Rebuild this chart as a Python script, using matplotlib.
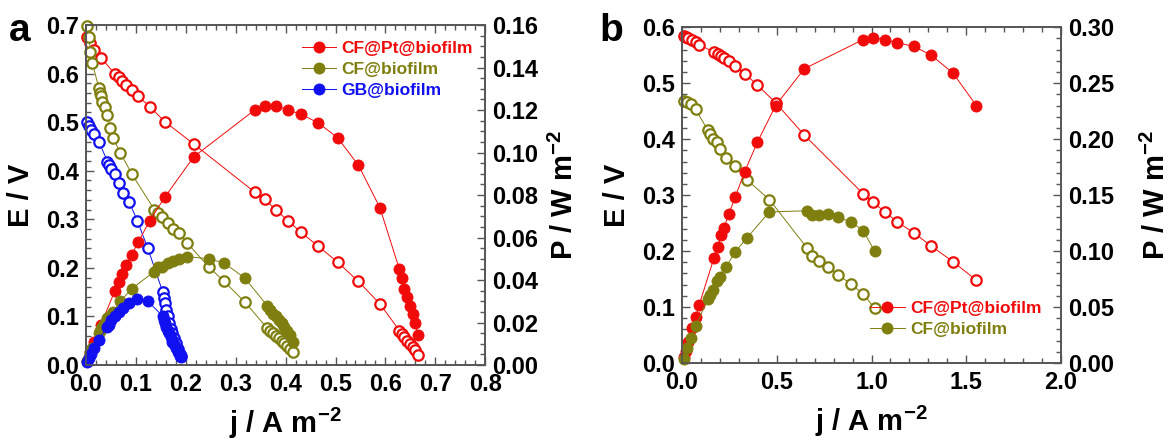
import matplotlib
matplotlib.use('Agg')
import matplotlib.pyplot as plt
from matplotlib.ticker import MultipleLocator, FormatStrFormatter

plt.rcParams['font.family'] = ['Liberation Sans', 'DejaVu Sans']
plt.rcParams['font.weight'] = 'bold'
plt.rcParams['axes.labelweight'] = 'bold'
plt.rcParams['mathtext.fontset'] = 'custom'
plt.rcParams['mathtext.rm'] = 'Liberation Sans:bold'
plt.rcParams['mathtext.bf'] = 'Liberation Sans:bold'
plt.rcParams['mathtext.default'] = 'bf'

# ---- panel a data ----
a_pt_j = [0.003, 0.009, 0.017, 0.030, 0.058, 0.066, 0.073, 0.081, 0.092, 0.105, 0.128, 0.158, 0.216,
          0.338, 0.358, 0.381, 0.405, 0.431, 0.465, 0.504, 0.546, 0.589, 0.628, 0.633, 0.638, 0.644,
          0.650, 0.655, 0.659, 0.665]
a_pt_E = [0.675, 0.662, 0.649, 0.633, 0.599, 0.592, 0.585, 0.577, 0.566, 0.553, 0.532, 0.501, 0.455,
          0.356, 0.341, 0.319, 0.297, 0.273, 0.245, 0.212, 0.172, 0.126, 0.071, 0.064, 0.057, 0.050,
          0.043, 0.037, 0.030, 0.021]
a_pt_P = [0.002, 0.006, 0.011, 0.019, 0.035, 0.039, 0.043, 0.047, 0.052, 0.058, 0.068, 0.079, 0.098,
          0.120, 0.122, 0.122, 0.120, 0.118, 0.114, 0.107, 0.094, 0.074, 0.045, 0.041, 0.036, 0.032,
          0.028, 0.024, 0.020, 0.014]

a_cf_j = [0.003, 0.006, 0.009, 0.013, 0.026, 0.028, 0.030, 0.033, 0.038, 0.043, 0.048, 0.054, 0.069,
          0.092, 0.137, 0.145, 0.152, 0.164, 0.175, 0.186, 0.203, 0.246, 0.277, 0.318, 0.363, 0.369,
          0.375, 0.381, 0.386, 0.392, 0.397, 0.402, 0.408, 0.414]
a_cf_E = [0.697, 0.676, 0.645, 0.621, 0.570, 0.561, 0.553, 0.542, 0.531, 0.515, 0.489, 0.468, 0.437,
          0.393, 0.320, 0.314, 0.305, 0.293, 0.281, 0.271, 0.251, 0.202, 0.172, 0.130, 0.076, 0.071,
          0.065, 0.060, 0.055, 0.050, 0.045, 0.039, 0.034, 0.027]
a_cf_P = [0.002, 0.004, 0.006, 0.008, 0.015, 0.016, 0.017, 0.018, 0.020, 0.022, 0.023, 0.025, 0.030,
          0.036, 0.044, 0.046, 0.046, 0.048, 0.049, 0.050, 0.051, 0.050, 0.048, 0.041, 0.028, 0.026,
          0.024, 0.023, 0.021, 0.020, 0.018, 0.016, 0.014, 0.011]

a_gb_j = [0.003, 0.007, 0.011, 0.017, 0.026, 0.043, 0.047, 0.051, 0.058, 0.066, 0.075, 0.087, 0.103,
          0.124, 0.154, 0.156, 0.158, 0.161, 0.164, 0.167, 0.171, 0.173, 0.176, 0.180, 0.184, 0.188,
          0.191]
a_gb_E = [0.501, 0.492, 0.484, 0.476, 0.460, 0.419, 0.412, 0.404, 0.394, 0.375, 0.355, 0.335, 0.297,
          0.240, 0.150, 0.137, 0.127, 0.113, 0.100, 0.087, 0.075, 0.065, 0.055, 0.045, 0.034, 0.023,
          0.019]
a_gb_P = [0.0015, 0.0034, 0.0053, 0.0081, 0.012, 0.018, 0.019, 0.021, 0.023, 0.025, 0.027, 0.029,
          0.031, 0.030, 0.023, 0.021, 0.020, 0.018, 0.016, 0.015, 0.013, 0.011, 0.0097, 0.0081, 0.0063,
          0.0043, 0.0036]

# ---- panel b data ----
b_pt_j = [0.008, 0.019, 0.033, 0.053, 0.072, 0.091, 0.169, 0.189, 0.208, 0.222, 0.247, 0.280, 0.331,
          0.397, 0.494, 0.646, 0.957, 1.006, 1.070, 1.136, 1.222, 1.315, 1.430, 1.553]
b_pt_E = [0.584, 0.583, 0.580, 0.577, 0.574, 0.569, 0.555, 0.552, 0.549, 0.545, 0.539, 0.530, 0.517,
          0.497, 0.465, 0.407, 0.302, 0.288, 0.270, 0.252, 0.233, 0.209, 0.181, 0.148]
b_pt_P = [0.005, 0.011, 0.019, 0.031, 0.041, 0.052, 0.094, 0.104, 0.114, 0.121, 0.133, 0.148, 0.171,
          0.197, 0.230, 0.263, 0.289, 0.290, 0.289, 0.286, 0.283, 0.275, 0.259, 0.230]

b_cf_j = [0.008, 0.027, 0.047, 0.072, 0.136, 0.150, 0.163, 0.185, 0.202, 0.233, 0.280, 0.344, 0.461,
          0.661, 0.685, 0.724, 0.772, 0.825, 0.893, 0.957, 1.016]
b_cf_E = [0.468, 0.466, 0.462, 0.453, 0.416, 0.409, 0.401, 0.395, 0.382, 0.367, 0.352, 0.327, 0.292,
          0.205, 0.192, 0.183, 0.172, 0.157, 0.141, 0.123, 0.098]
b_cf_P = [0.004, 0.013, 0.022, 0.033, 0.057, 0.061, 0.065, 0.073, 0.077, 0.086, 0.099, 0.112, 0.135,
          0.136, 0.132, 0.132, 0.133, 0.130, 0.126, 0.118, 0.100]

RED = '#f00a0a'
OLIVE = '#7f7f10'
BLUE = '#1010f0'


def draw_panel(ax, series, xlim, elim, plim, xt, et, pt, plabelpad):
    ax2 = ax.twinx()
    handles = []
    for label, col, j, E, P in series:
        ax.plot(j, E, '-o', color=col, lw=0.7, ms=7.5, mfc='white', mec=col, mew=1.6,
                clip_on=False)
        h, = ax2.plot(j, P, '-o', color=col, lw=0.7, ms=8, mfc=col, mec=col, mew=0.6,
                      clip_on=False, label=label)
        handles.append(h)
    ax.set_xlim(*xlim)
    ax.set_ylim(*elim)
    ax2.set_ylim(*plim)
    ax.xaxis.set_major_locator(MultipleLocator(xt[0]))
    ax.xaxis.set_minor_locator(MultipleLocator(xt[1]))
    ax.yaxis.set_major_locator(MultipleLocator(et[0]))
    ax.yaxis.set_minor_locator(MultipleLocator(et[1]))
    ax2.yaxis.set_major_locator(MultipleLocator(pt[0]))
    ax2.yaxis.set_minor_locator(MultipleLocator(pt[1]))
    ax.xaxis.set_major_formatter(FormatStrFormatter('%.1f'))
    ax.yaxis.set_major_formatter(FormatStrFormatter('%.1f'))
    ax2.yaxis.set_major_formatter(FormatStrFormatter('%.2f'))
    ax.tick_params(axis='x', which='both', direction='in', top=True, labelsize=17, pad=6)
    ax.tick_params(axis='y', which='both', direction='in', labelsize=17, pad=5)
    ax2.tick_params(axis='y', which='both', direction='in', labelsize=17, pad=5)
    for a in (ax, ax2):
        a.tick_params(which='major', length=6, width=1, color='#555555')
        a.tick_params(which='minor', length=3.5, width=1, color='#555555')
        for s in a.spines.values():
            s.set_color('#555555')
            s.set_linewidth(1.2)
    ax.set_xlabel('j / A m$^{-2}$', fontsize=21, labelpad=7)
    ax.set_ylabel('E / V', fontsize=21, labelpad=8)
    ax2.set_ylabel('P / W m$^{-2}$', fontsize=21, labelpad=plabelpad)
    return ax2, handles


fig = plt.figure(figsize=(11.71, 4.43), dpi=100)
ax_a = fig.add_axes([0.0734, 0.176, 0.341, 0.7675])
ax_b = fig.add_axes([0.5824, 0.1806, 0.3237, 0.758])

series_a = [('CF@Pt@biofilm', RED, a_pt_j, a_pt_E, a_pt_P),
            ('CF@biofilm', OLIVE, a_cf_j, a_cf_E, a_cf_P),
            ('GB@biofilm', BLUE, a_gb_j, a_gb_E, a_gb_P)]
series_b = [('CF@Pt@biofilm', RED, b_pt_j, b_pt_E, b_pt_P),
            ('CF@biofilm', OLIVE, b_cf_j, b_cf_E, b_cf_P)]

ax2_a, h_a = draw_panel(ax_a, series_a, (0, 0.8), (0, 0.7), (0, 0.16),
                        (0.1, 0.02), (0.1, 0.02), (0.02, 0.005), 8)
ax2_b, h_b = draw_panel(ax_b, series_b, (0, 2.0), (0, 0.6), (0, 0.30),
                        (0.5, 0.1), (0.1, 0.02), (0.05, 0.01), 20)

leg_a = ax2_a.legend(handles=h_a, loc='upper right', bbox_to_anchor=(1.0, 0.99), frameon=False,
                     fontsize=12.5, handlelength=2.0, handletextpad=0.3, labelspacing=0.35,
                     borderaxespad=0.3)
for t, s in zip(leg_a.get_texts(), series_a):
    t.set_color(s[1])
leg_b = ax2_b.legend(handles=h_b, loc='lower right', bbox_to_anchor=(0.98, 0.04), frameon=False,
                     fontsize=12.5, handlelength=2.0, handletextpad=0.3, labelspacing=0.35,
                     borderaxespad=0.3)
for t, s in zip(leg_b.get_texts(), series_b):
    t.set_color(s[1])

fig.text(0.008, 0.93, 'a', fontsize=28, fontweight='bold', va='center')
fig.text(0.512, 0.93, 'b', fontsize=28, fontweight='bold', va='center')

fig.savefig('out.png', dpi=100)
